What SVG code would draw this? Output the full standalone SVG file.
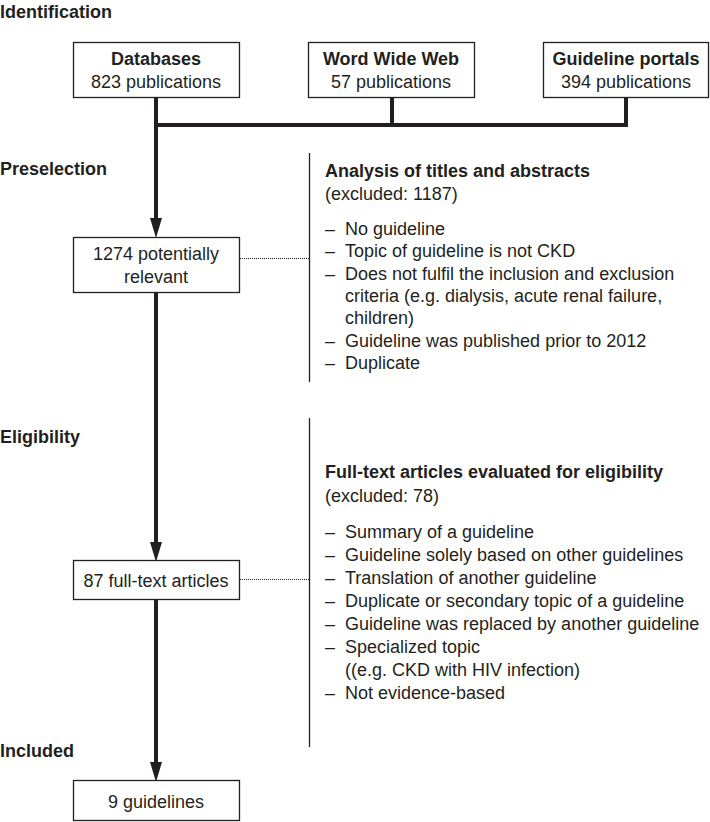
<svg xmlns="http://www.w3.org/2000/svg" width="710" height="822" viewBox="0 0 710 822">
<style>
text{font-family:"Liberation Sans",Arial,sans-serif;font-size:18px;fill:#231f20}
.b{font-weight:bold}
.c{text-anchor:middle}
.box{fill:#fff;stroke:#231f20;stroke-width:1.3}
.thick{stroke:#231f20;stroke-width:4;fill:none}
.sep{stroke:#231f20;stroke-width:1.3;fill:none}
.dot{stroke:#231f20;stroke-width:1;stroke-dasharray:1 1;fill:none}
</style>
<defs>
<marker id="ah" markerUnits="userSpaceOnUse" markerWidth="20" markerHeight="12" viewBox="0 0 20 12" refX="8" refY="6" orient="auto">
<path d="M0,0 L20,6 L0,12 z" fill="#231f20"/>
</marker>
</defs>
<g id="stage-labels">
<text class="b" x="0" y="18">Identification</text>
<text class="b" x="0" y="175">Preselection</text>
<text class="b" x="0" y="443">Eligibility</text>
<text class="b" x="0" y="757">Included</text>
</g>
<g id="connectors">
<path class="thick" d="M156,97 V226" marker-end="url(#ah)"/>
<path class="thick" d="M154,125 H628"/>
<path class="thick" d="M392,97 V127"/>
<path class="thick" d="M626,97 V127"/>
<path class="thick" d="M156,292 V550" marker-end="url(#ah)"/>
<path class="thick" d="M156,599 V770" marker-end="url(#ah)"/>
<path class="dot" d="M240,258.5 H309"/>
<path class="dot" d="M240,579.5 H309"/>
<path class="sep" d="M309.5,153 V382"/>
<path class="sep" d="M309.5,418 V747"/>
</g>
<g id="databases">
<rect class="box" x="73.5" y="42.5" width="166" height="55"/>
<text class="b c" x="156" y="65">Databases</text>
<text class="c" x="156" y="88">823 publications</text>
</g>
<g id="www">
<rect class="box" x="308.5" y="42.5" width="166" height="55"/>
<text class="b c" x="391" y="65">Word Wide Web</text>
<text class="c" x="391" y="88">57 publications</text>
</g>
<g id="portals">
<rect class="box" x="543.5" y="42.5" width="165" height="55"/>
<text class="b c" x="626" y="65">Guideline portals</text>
<text class="c" x="626" y="88">394 publications</text>
</g>
<g id="potentially-relevant">
<rect class="box" x="73.5" y="237.5" width="166" height="55"/>
<text class="c" x="156" y="260">1274 potentially</text>
<text class="c" x="156" y="283">relevant</text>
</g>
<g id="full-text">
<rect class="box" x="73.5" y="560.5" width="166" height="39"/>
<text class="c" x="156" y="587">87 full-text articles</text>
</g>
<g id="guidelines">
<rect class="box" x="73.5" y="780.5" width="166" height="40"/>
<text class="c" x="156" y="808">9 guidelines</text>
</g>
<g id="exclusion-1">
<text class="b" x="325" y="177">Analysis of titles and abstracts</text>
<text x="325" y="200">(excluded: 1187)</text>
<text x="325" y="235">–</text><text x="345" y="235">No guideline</text>
<text x="325" y="257">–</text><text x="345" y="257">Topic of guideline is not CKD</text>
<text x="325" y="280">–</text><text x="345" y="280">Does not fulfil the inclusion and exclusion</text>
<text x="345" y="302">criteria (e.g. dialysis, acute renal failure,</text>
<text x="345" y="324">children)</text>
<text x="325" y="347">–</text><text x="345" y="347">Guideline was published prior to 2012</text>
<text x="325" y="369">–</text><text x="345" y="369">Duplicate</text>
</g>
<g id="exclusion-2">
<text class="b" x="325" y="478">Full-text articles evaluated for eligibility</text>
<text x="325" y="502">(excluded: 78)</text>
<text x="325" y="538">–</text><text x="345" y="538">Summary of a guideline</text>
<text x="325" y="561">–</text><text x="345" y="561">Guideline solely based on other guidelines</text>
<text x="325" y="584">–</text><text x="345" y="584">Translation of another guideline</text>
<text x="325" y="607">–</text><text x="345" y="607">Duplicate or secondary topic of a guideline</text>
<text x="325" y="630">–</text><text x="345" y="630">Guideline was replaced by another guideline</text>
<text x="325" y="653">–</text><text x="345" y="653">Specialized topic</text>
<text x="345" y="676">((e.g. CKD with HIV infection)</text>
<text x="325" y="699">–</text><text x="345" y="699">Not evidence-based</text>
</g>
</svg>
